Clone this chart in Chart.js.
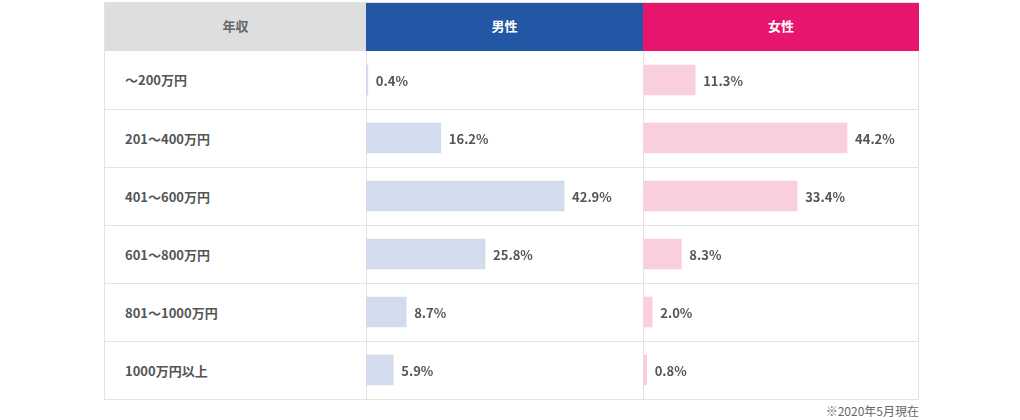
<!DOCTYPE html>
<html><head><meta charset="utf-8">
<script src="https://cdn.jsdelivr.net/npm/chart.js@4"></script>
<style>
body{margin:0;width:1020px;height:420px;background:#fff;font-family:"Noto Sans CJK JP","Noto Sans",sans-serif;position:relative;overflow:hidden}
#tbl{position:absolute;left:104px;top:2px;width:815px;height:398px;border:1px solid #e3e3e3;box-sizing:border-box}
.hd{position:absolute;top:0;height:48px;line-height:46px;text-align:center;font-size:13px;font-weight:bold}
.row{position:absolute;left:0;width:813px;border-top:1px solid #e3e3e3;box-sizing:border-box}
.lab{position:absolute;left:0;width:260px;font-size:13px;font-weight:bold;color:#555;padding-left:20px;box-sizing:border-box}
.vl{position:absolute;top:48px;bottom:0;width:1px;background:#e3e3e3}
.cw{position:absolute;top:48px;width:277px;height:348px}
#note{position:absolute;right:101px;top:402px;font-size:12px;color:#666}
</style></head><body>
<div id="tbl">
  <div class="hd" style="left:0;width:261px;background:#dedede;color:#666">年収</div>
  <div class="hd" style="left:261px;width:277px;background:#2356a5;color:#fff">男性</div>
  <div class="hd" style="left:538px;width:276px;background:#e8156f;color:#fff">女性</div>
  <div id="rows"></div>
  <div class="vl" style="left:261px"></div>
  <div class="vl" style="left:538px"></div>
  <div class="cw" style="left:261px"><canvas id="male"></canvas></div>
  <div class="cw" style="left:538px"><canvas id="female"></canvas></div>
</div>
<div id="note">※2020年5月現在</div>
<script>
const categories = ['～200万円','201～400万円','401～600万円','601～800万円','801～1000万円','1000万円以上'];
const maleValues = [0.4, 16.2, 42.9, 25.8, 8.7, 5.9];
const femaleValues = [11.3, 44.2, 33.4, 8.3, 2.0, 0.8];

const rowH = 58;
const rows = document.getElementById('rows');
categories.forEach((c, i) => {
  const r = document.createElement('div');
  r.className = 'row';
  r.style.top = (48 + i * rowH) + 'px';
  r.style.height = rowH + 'px';
  if (i === 0) r.style.borderTop = 'none';
  const l = document.createElement('div');
  l.className = 'lab';
  l.style.lineHeight = rowH + 'px';
  l.textContent = c;
  r.appendChild(l);
  rows.appendChild(r);
});

const valueLabels = {
  id: 'valueLabels',
  afterDatasetsDraw(chart) {
    const ctx = chart.ctx;
    const meta = chart.getDatasetMeta(0);
    ctx.save();
    ctx.font = 'bold 13px "Noto Sans CJK JP", sans-serif';
    ctx.fillStyle = '#555';
    ctx.textBaseline = 'middle';
    meta.data.forEach((bar, i) => {
      const v = chart.data.datasets[0].data[i];
      ctx.fillText(v.toFixed(1) + '%', bar.x + 8, bar.y + 1);
    });
    ctx.restore();
  }
};

function makeChart(id, data, color) {
  new Chart(document.getElementById(id), {
    type: 'bar',
    data: { labels: categories, datasets: [{ data, backgroundColor: color, barThickness: 30 }] },
    options: {
      indexAxis: 'y',
      responsive: true,
      maintainAspectRatio: false,
      animation: false,
      layout: { padding: 0 },
      scales: {
        x: { display: false, min: 0, max: 60 },
        y: { display: false }
      },
      plugins: { legend: { display: false }, tooltip: { enabled: false } }
    },
    plugins: [valueLabels]
  });
}
makeChart('male', maleValues, '#d3dcec');
makeChart('female', femaleValues, '#f9cfe0');
</script>
</body></html>
